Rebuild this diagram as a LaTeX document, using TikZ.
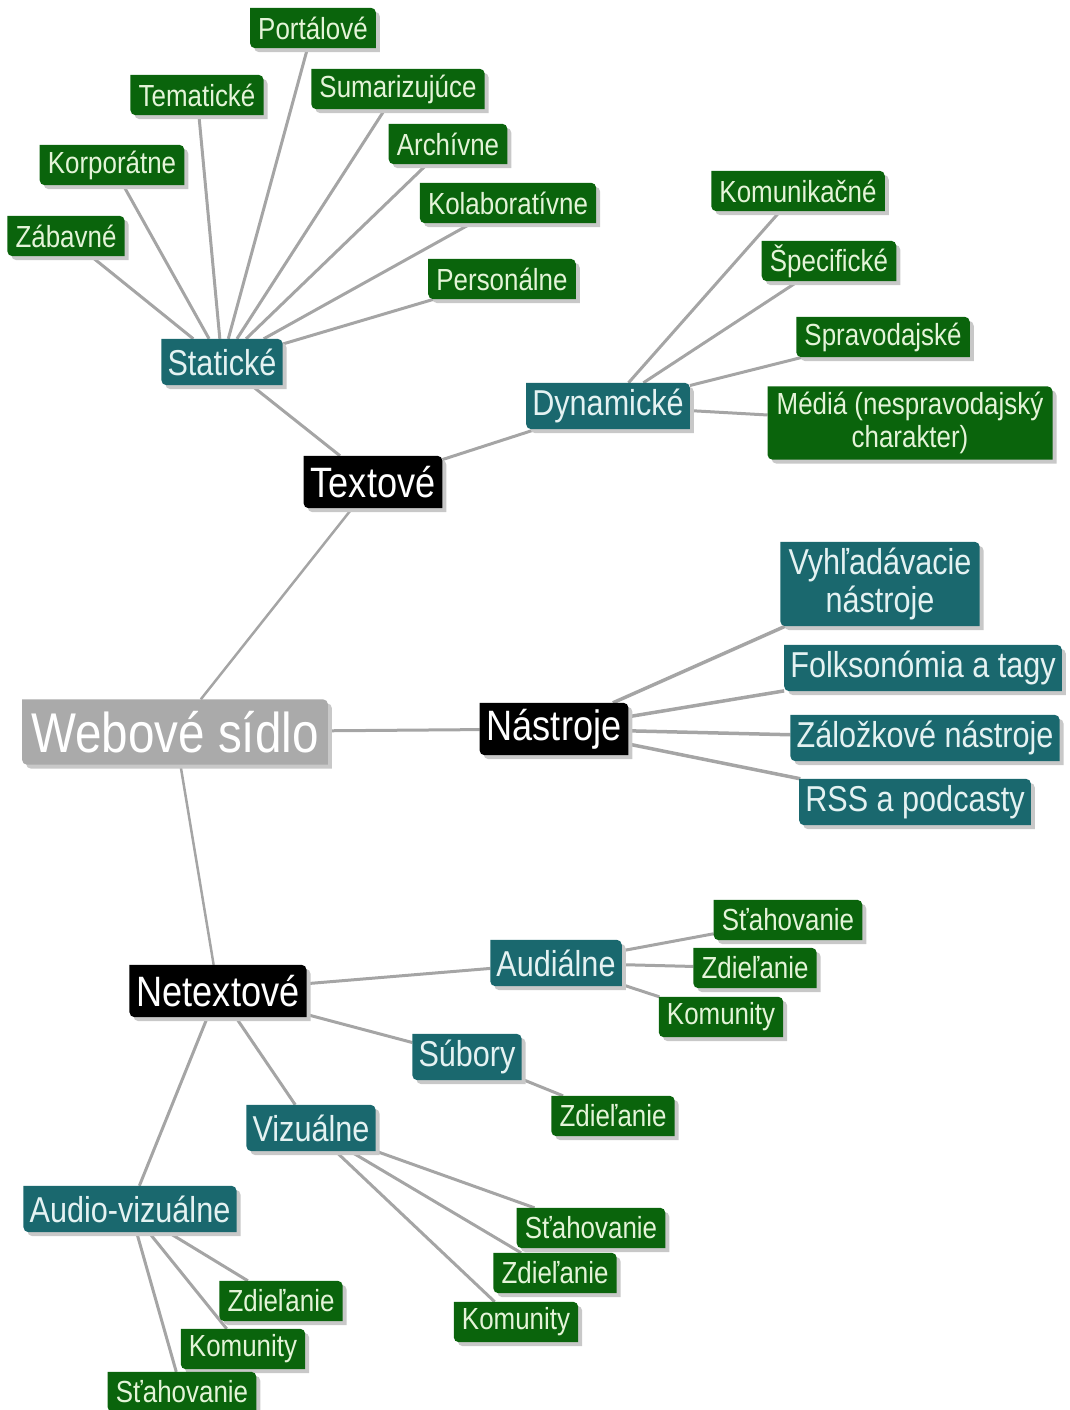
\documentclass[tikz,border=0pt]{standalone}
\usepackage{fontspec}
\setmainfont{Liberation Sans}
\newfontfamily\nodefont[FakeStretch=0.85]{Liberation Sans}

\pgfdeclarelayer{links}
\pgfdeclarelayer{plates}
\pgfsetlayers{links,plates,main}

\definecolor{leafgreen}{RGB}{10,100,12}
\definecolor{leaftext}{RGB}{228,244,216}
\definecolor{branchteal}{RGB}{26,104,110}
\definecolor{branchtext}{RGB}{228,242,242}
\definecolor{rootgray}{RGB}{170,170,170}
\definecolor{linkgray}{RGB}{165,165,165}
\definecolor{shadowgray}{RGB}{200,200,200}

% plate outline: square top-left and bottom-right corners, rounded top-right and bottom-left
\newcommand\platepath[2]{([shift={#2}]#1.north west)
  -- ([shift={#2},xshift=-5pt]#1.north east) arc[start angle=90,end angle=0,radius=5pt]
  -- ([shift={#2}]#1.south east)
  -- ([shift={#2},xshift=5pt]#1.south west) arc[start angle=270,end angle=180,radius=5pt]
  -- cycle}

\begin{document}
\begin{tikzpicture}[x=1pt,y=-1pt,
  box/.style={inner ysep=0pt, align=center, anchor=center},
  leaf/.style={box, text=leaftext, inner xsep=8pt, minimum height=40pt,
    font=\nodefont\fontsize{30.5}{33}\selectfont},
  branch/.style={box, text=branchtext, inner xsep=6pt, minimum height=46pt,
    font=\nodefont\fontsize{36}{38}\selectfont},
  hub/.style={box, text=white, inner xsep=7pt, minimum height=52pt,
    font=\nodefont\fontsize{42.5}{44}\selectfont},
  rootbox/.style={box, text=white, inner xsep=9pt, minimum height=65pt,
    font=\nodefont\fontsize{56}{58}\selectfont},
  link/.style={draw=linkgray, line width=3pt}]

\useasboundingbox (0,0) rectangle (1069,1410);

% root and first level
\node[rootbox] (root) at (175,732) {Webové sídlo};
\node[hub] (textove) at (373,482) {Textové};
\node[hub] (nastroje) at (554,729) {Nástroje};
\node[hub] (netextove) at (218,991) {Netextové};

% text-based sites
\node[branch] (staticke) at (222,362) {Statické};
\node[branch] (dynamicke) at (608,406) {Dynamické};

\node[leaf] (portalove) at (313,28) {Portálové};
\node[leaf] (tematicke) at (197,95) {Tematické};
\node[leaf] (sumarizujuce) at (398,89) {Sumarizujúce};
\node[leaf] (korporatne) at (112,165) {Korporátne};
\node[leaf] (archivne) at (448,144) {Archívne};
\node[leaf] (zabavne) at (66,236) {Zábavné};
\node[leaf] (kolaborativne) at (508,203) {Kolaboratívne};
\node[leaf] (personalne) at (502,279) {Personálne};

\node[leaf] (komunikacne) at (798,191) {Komunikačné};
\node[leaf] (specificke) at (829,261) {Špecifické};
\node[leaf] (spravodajske) at (883,337) {Spravodajské};
\node[leaf, minimum height=73pt, inner xsep=9pt] (media) at (910,423) {Médiá (nespravodajský\\charakter)};

% tools
\node[branch, minimum height=84pt, inner xsep=8pt, font=\nodefont\fontsize{36}{38}\selectfont] (vyhladavacie) at (880,584) {Vyhľadávacie\\nástroje};
\node[branch] (folksonomia) at (923,668) {Folksonómia a tagy};
\node[branch] (zalozkove) at (925,738) {Záložkové nástroje};
\node[branch] (rss) at (915,802) {RSS a podcasty};

% non-text sites
\node[branch] (audialne) at (556,963) {Audiálne};
\node[branch] (subory) at (467,1057) {Súbory};
\node[branch] (vizualne) at (311,1128) {Vizuálne};
\node[branch] (audiovizualne) at (130,1209) {Audio-vizuálne};

\node[leaf] (audStah) at (788,920) {Sťahovanie};
\node[leaf] (audZdiel) at (755,968) {Zdieľanie};
\node[leaf] (audKom) at (721,1017) {Komunity};
\node[leaf] (subZdiel) at (613,1116) {Zdieľanie};
\node[leaf] (vizStah) at (591,1228) {Sťahovanie};
\node[leaf] (vizZdiel) at (555,1273) {Zdieľanie};
\node[leaf] (vizKom) at (516,1322) {Komunity};
\node[leaf] (avZdiel) at (281,1301) {Zdieľanie};
\node[leaf] (avKom) at (243,1349) {Komunity};
\node[leaf] (avStah) at (182,1392) {Sťahovanie};

% plates with drop shadows
\begin{pgfonlayer}{plates}
\foreach \n/\c in {root/rootgray, textove/black, nastroje/black, netextove/black,
    staticke/branchteal, dynamicke/branchteal, vyhladavacie/branchteal,
    folksonomia/branchteal, zalozkove/branchteal, rss/branchteal,
    audialne/branchteal, subory/branchteal, vizualne/branchteal, audiovizualne/branchteal,
    portalove/leafgreen, tematicke/leafgreen, sumarizujuce/leafgreen, korporatne/leafgreen,
    archivne/leafgreen, zabavne/leafgreen, kolaborativne/leafgreen, personalne/leafgreen,
    komunikacne/leafgreen, specificke/leafgreen, spravodajske/leafgreen, media/leafgreen,
    audStah/leafgreen, audZdiel/leafgreen, audKom/leafgreen, subZdiel/leafgreen,
    vizStah/leafgreen, vizZdiel/leafgreen, vizKom/leafgreen,
    avZdiel/leafgreen, avKom/leafgreen, avStah/leafgreen}{
  \fill[shadowgray] \platepath{\n}{(4pt,-4pt)};
  \fill[\c] \platepath{\n}{(0pt,0pt)};
}
\end{pgfonlayer}

% connectors
\begin{pgfonlayer}{links}
\draw[link, line width=2.5pt] (root) -- (textove);
\draw[link] (root) -- (nastroje);
\draw[link, line width=2.5pt] (root) -- (netextove);
\draw[link] (textove) -- (staticke);
\draw[link] (textove) -- (dynamicke);
\foreach \k in {portalove, tematicke, sumarizujuce, korporatne, archivne,
    zabavne, kolaborativne, personalne}
  \draw[link] (staticke) -- (\k);
\foreach \k in {komunikacne, specificke, spravodajske, media}
  \draw[link] (dynamicke) -- (\k);
\foreach \k in {vyhladavacie, folksonomia, zalozkove, rss}
  \draw[link, line width=3.5pt] (nastroje) -- (\k);
\foreach \k in {audialne, subory, vizualne, audiovizualne}
  \draw[link] (netextove) -- (\k);
\foreach \k in {audStah, audZdiel, audKom}
  \draw[link] (audialne) -- (\k);
\draw[link] (subory) -- (subZdiel);
\foreach \k in {vizStah, vizZdiel, vizKom}
  \draw[link] (vizualne) -- (\k);
\foreach \k in {avZdiel, avKom, avStah}
  \draw[link] (audiovizualne) -- (\k);
\end{pgfonlayer}
\end{tikzpicture}
\end{document}
